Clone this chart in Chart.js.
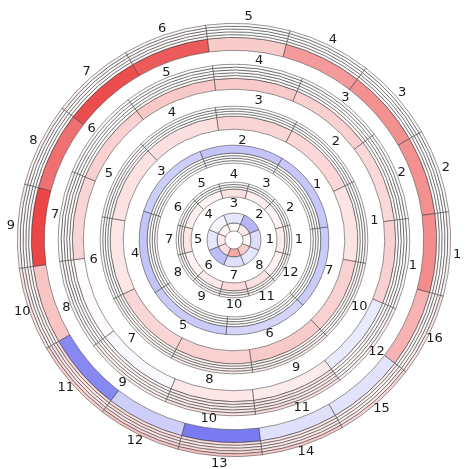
<!DOCTYPE html>
<html>
<head>
<meta charset="utf-8">
<script src="https://cdn.jsdelivr.net/npm/chart.js@4.4.1/dist/chart.umd.min.js"></script>
<style>
  html, body { margin: 0; padding: 0; background: #ffffff; }
  canvas { display: block; }
</style>
</head>
<body>
<canvas id="rings" width="468" height="469"></canvas>
<script>
// ---- segment labels (counter-clockwise, starting at segment 1) ----
const labels16 = ['1','2','3','4','5','6','7','8','9','10','11','12','13','14','15','16'];
const labels12 = ['1','2','3','4','5','6','7','8','9','10','11','12'];
const labels10 = ['1','2','3','4','5','6','7','8','9','10'];
const labels7  = ['1','2','3','4','5','6','7'];
const labels8  = ['1','2','3','4','5','6','7','8'];

// ---- values per segment, -1 (blue) .. 0 (white) .. +1 (red) ----
// outer ring of 16
const band16 = [0.54, 0.52, 0.52, 0.48, 0.24, 0.78, 0.84, 0.68, 0.88, 0.28, -0.68, -0.28, -0.76, -0.18, -0.16, 0.36];
const thin16 = [
  [0.04, 0.02, 0.02, 0.02, 0.02, 0.03, 0.04, 0.03, 0.04, 0.06, 0.18, 0.14, 0.16, 0.12, 0.08, 0.05],
  [0.02, 0.00, 0.00, 0.01, 0.00, 0.02, 0.02, 0.02, 0.03, 0.05, 0.12, 0.16, 0.10, 0.10, 0.06, 0.04],
  [0.00, 0.00, 0.01, 0.00, 0.00, 0.01, 0.02, 0.01, 0.02, 0.04, 0.10, 0.12, 0.14, 0.10, 0.05, 0.02],
  [0.02, 0.01, 0.00, 0.00, 0.01, 0.02, 0.03, 0.03, 0.04, 0.08, 0.16, 0.18, 0.18, 0.14, 0.10, 0.05],
  [0.06, 0.03, 0.02, 0.02, 0.02, 0.04, 0.06, 0.06, 0.08, 0.12, 0.22, 0.28, 0.28, 0.24, 0.18, 0.12]
];
// second ring of 12
const band12b = [0.22, 0.18, 0.22, 0.25, 0.26, 0.22, 0.20, 0.02, -0.04, 0.12, 0.10, -0.12];
const thin12b = [
  [0.02, 0.01, 0.02, 0.02, 0.03, 0.02, 0.02, 0.01, 0.06, 0.10, 0.12, 0.04],
  [0.01, 0.00, 0.01, 0.01, 0.02, 0.01, 0.01, 0.02, 0.05, 0.08, 0.10, 0.03],
  [0.00, 0.00, 0.00, 0.01, 0.01, 0.00, 0.01, 0.01, 0.04, 0.08, 0.08, 0.02],
  [0.01, 0.01, 0.00, 0.00, 0.01, 0.01, 0.02, 0.03, 0.06, 0.10, 0.12, 0.04],
  [0.03, 0.02, 0.02, 0.02, 0.02, 0.02, 0.03, 0.04, 0.08, 0.14, 0.14, 0.06]
];
// ring of 10
const band10 = [0.13, 0.19, 0.20, 0.15, 0.14, 0.12, 0.20, 0.22, 0.25, 0.22];
const thin10 = [
  [0.02, 0.02, 0.01, 0.01, 0.02, 0.02, 0.04, 0.06, 0.06, 0.04],
  [0.01, 0.01, 0.00, 0.00, 0.01, 0.01, 0.03, 0.05, 0.05, 0.03],
  [0.01, 0.00, 0.00, 0.00, 0.00, 0.01, 0.03, 0.06, 0.06, 0.03],
  [0.02, 0.01, 0.01, 0.01, 0.01, 0.02, 0.05, 0.08, 0.08, 0.05]
];
// ring of 7
const band7 = [-0.32, -0.34, -0.28, -0.34, -0.30, -0.24, -0.30];
const thin7 = [
  [0.01, 0.00, 0.01, 0.02, 0.02, 0.01, 0.00],
  [0.00, 0.00, 0.00, 0.01, 0.01, 0.00, 0.00],
  [0.00, 0.00, 0.00, 0.01, 0.01, 0.00, 0.00],
  [0.01, 0.01, 0.00, 0.01, 0.02, 0.01, 0.01]
];
// inner ring of 12
const band12a = [0.10, 0.05, 0.08, 0.14, 0.05, 0.08, 0.12, 0.06, 0.10, 0.18, 0.14, 0.06];
const thin12a = [
  [0.02, 0.01, 0.02, 0.03, 0.01, 0.02, 0.03, 0.02, 0.03, 0.05, 0.04, 0.02],
  [0.01, 0.00, 0.01, 0.02, 0.00, 0.01, 0.02, 0.01, 0.02, 0.04, 0.03, 0.01],
  [0.02, 0.01, 0.01, 0.02, 0.01, 0.01, 0.02, 0.02, 0.03, 0.05, 0.04, 0.02]
];
// centre ring of 8
const band8  = [-0.20, -0.42, -0.15, -0.06, -0.14, -0.38, -0.18, -0.14];
const inner8 = [0.04, 0.10, 0.02, 0.06, 0.10, 0.16, 0.42, 0.24];

// ---- colour map: blue - white - red ----
function bwr(v) {
  const t = Math.max(-1, Math.min(1, v));
  const hot = [232, 44, 44], cold = [80, 80, 236];
  const end = t >= 0 ? hot : cold;
  const a = Math.abs(t);
  const c = end.map(e => Math.round(255 + (e - 255) * a));
  return `rgb(${c[0]},${c[1]},${c[2]})`;
}

// ---- ring layout (outer to inner), widths in pixels and start angles ----
const EDGE = 'rgba(55,55,55,0.75)';
const EDGE_W = 0.7;
const datasets = [];

// one ring of equal segments, listed clockwise so that labels run counter-clockwise
function ring(values, group, rotation, width, labels, labelGap) {
  const ds = {
    data: values.map(() => 1),
    backgroundColor: values.slice().reverse().map(bwr),
    borderColor: EDGE,
    borderWidth: EDGE_W,
    rotation: rotation,
    weight: width,
    group: group
  };
  if (labels) {
    ds.segmentLabels = labels.slice().reverse();
    ds.labelGap = labelGap;
  }
  datasets.push(ds);
}
function gap(width) {
  datasets.push({ data: [1], backgroundColor: 'rgba(0,0,0,0)', borderWidth: 0, weight: width });
}

// ring of 16
for (let k = thin16.length - 1; k >= 0; k--) ring(thin16[k], 'g16', 105, 2.8);
ring(band16, 'g16', 105, 13, labels16, 7);
gap(14);
// ring of 12 (outer)
for (let k = thin12b.length - 1; k >= 0; k--) ring(thin12b[k], 'g12b', 113, 2.8);
ring(band12b, 'g12b', 113, 11, labels12, 5);
gap(17);
// ring of 10
for (let k = thin10.length - 1; k >= 0; k--) ring(thin10[k], 'g10', 100, 2.5);
ring(band10, 'g10', 100, 13, labels10, 8);
gap(16);
// ring of 7 (band outside, thin rings inside)
ring(band7, 'g7', 82, 8, labels7, 5);
for (let k = thin7.length - 1; k >= 0; k--) ring(thin7[k], 'g7', 82, 2.5);
gap(19);
// ring of 12 (inner)
for (let k = thin12a.length - 1; k >= 0; k--) ring(thin12a[k], 'g12a', 105, 2.33);
ring(band12a, 'g12a', 105, 8, labels12, 7);
gap(16);
// centre ring of 8
ring(band8, 'g8', 112.5, 10, labels8, 9);
ring(inner8, 'g8', 112.5, 8);

// ---- segment numbers outside each ring group ----
const ringLabels = {
  id: 'ringLabels',
  afterDatasetsDraw(chart) {
    const ctx = chart.ctx;
    const edge = {};
    chart.data.datasets.forEach((ds, i) => {
      if (!ds.group) return;
      const arc = chart.getDatasetMeta(i).data[0];
      edge[ds.group] = Math.max(edge[ds.group] || 0, arc.outerRadius);
    });
    ctx.save();
    ctx.fillStyle = '#1a1a1a';
    ctx.font = '13px "DejaVu Sans", sans-serif';
    ctx.textAlign = 'center';
    ctx.textBaseline = 'middle';
    chart.data.datasets.forEach((ds, i) => {
      if (!ds.segmentLabels) return;
      chart.getDatasetMeta(i).data.forEach((arc, j) => {
        const p = arc.getProps(['x', 'y', 'startAngle', 'endAngle'], true);
        const mid = (p.startAngle + p.endAngle) / 2;
        const r = edge[ds.group] + ds.labelGap;
        ctx.fillText(ds.segmentLabels[j], p.x + r * Math.cos(mid), p.y + r * Math.sin(mid));
      });
    });
    ctx.restore();
  }
};

new Chart(document.getElementById('rings'), {
  type: 'doughnut',
  data: { datasets: datasets },
  options: {
    responsive: false,
    animation: false,
    events: [],
    cutout: 9,
    layout: { padding: { top: 23, bottom: 12, left: 17, right: 17 } },
    plugins: { legend: { display: false }, tooltip: { enabled: false } }
  },
  plugins: [ringLabels]
});
</script>
</body>
</html>
